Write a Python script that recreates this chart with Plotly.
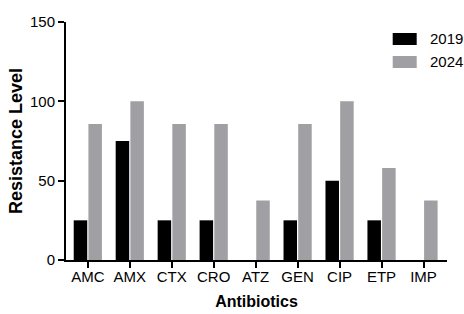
import plotly.graph_objects as go

categories = ["AMC", "AMX", "CTX", "CRO", "ATZ", "GEN", "CIP", "ETP", "IMP"]
values_2019 = [25, 75, 25, 25, 0, 25, 50, 25, 0]
values_2024 = [85.7, 100, 85.7, 85.7, 37.5, 85.7, 100, 58, 37.5]
series_names = ["2019", "2024"]
y_ticks = [0, 50, 100, 150]

BLACK = "#000000"
GRAY = "#a0a0a4"
FONT = "Liberation Sans, Arial, sans-serif"

fig = go.Figure()
fig.add_trace(go.Bar(x=categories, y=values_2019, name=series_names[0],
                     marker=dict(color=BLACK, line=dict(width=0))))
fig.add_trace(go.Bar(x=categories, y=values_2024, name=series_names[1],
                     marker=dict(color=GRAY, line=dict(width=0))))

fig.update_layout(
    width=464, height=314,
    margin=dict(l=66, r=17, t=22, b=54),
    paper_bgcolor="white", plot_bgcolor="white",
    barmode="group", bargap=0.30, bargroupgap=0.08,
    showlegend=False,
    font=dict(family=FONT, color="black", size=14),
)
fig.update_xaxes(
    range=[-0.52, 8.56], showline=True, linecolor="black", linewidth=2,
    ticks="outside", ticklen=6, tickwidth=2, tickcolor="black",
    showgrid=False, zeroline=False, automargin=False,
    tickfont=dict(size=15, family=FONT), ticklabelstandoff=-4,
    title=dict(text="<b>Antibiotics</b>", font=dict(size=16, family=FONT), standoff=12),
)
fig.update_yaxes(
    range=[0, 150], tickvals=y_ticks, showline=True, linecolor="black", linewidth=2,
    ticks="outside", ticklen=6, tickwidth=2, tickcolor="black",
    showgrid=False, zeroline=False, automargin=False,
    tickfont=dict(size=15, family=FONT),
    title=dict(text="<b>Resistance Level</b>", font=dict(size=18, family=FONT), standoff=3),
)

# custom legend (paper coordinates relative to the plot area 66..447 x 22..260)
def px_x(x):
    return (x - 66) / 381

def px_y(y):
    return (260 - y) / 238

legend_rows = [(series_names[0], BLACK, 33, 45, 39), (series_names[1], GRAY, 56, 68, 62)]
for name, color, top, bottom, mid in legend_rows:
    fig.add_shape(type="rect", xref="paper", yref="paper",
                  x0=px_x(392.7), x1=px_x(416.7), y0=px_y(bottom), y1=px_y(top),
                  fillcolor=color, line=dict(width=0))
    fig.add_annotation(xref="paper", yref="paper", x=px_x(428), y=px_y(mid),
                       text=name, showarrow=False, xanchor="left", yanchor="middle",
                       font=dict(size=15, family=FONT, color="black"))

fig.write_html("out.html", config={"displayModeBar": False},
               post_script="document.body.style.margin='0';")
